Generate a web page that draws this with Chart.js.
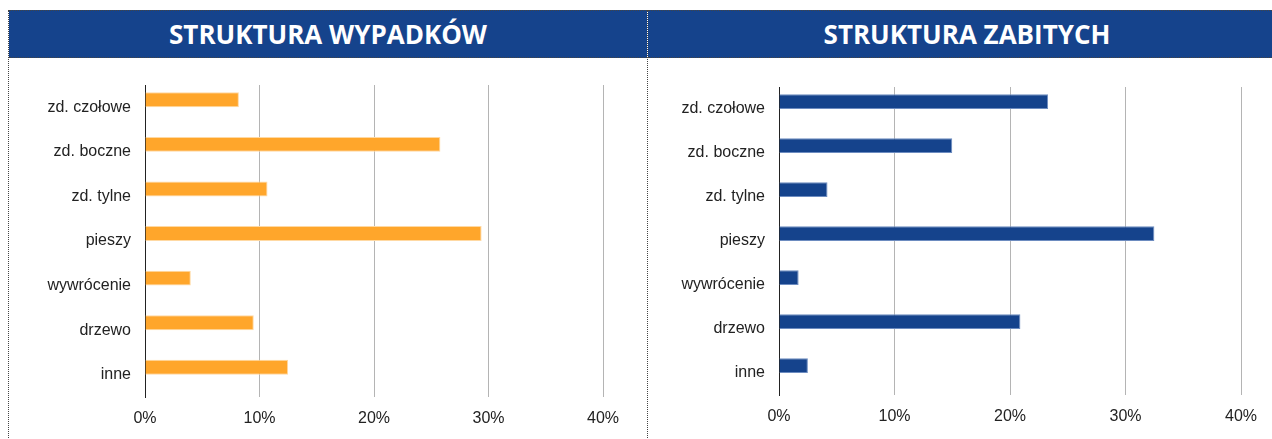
<!DOCTYPE html>
<html lang="pl">
<head>
<meta charset="utf-8">
<title>Struktura wypadków i zabitych</title>
<script src="https://cdn.jsdelivr.net/npm/chart.js@4.4.1/dist/chart.umd.min.js"></script>
<style>
    html, body {
        margin: 0;
        padding: 0;
        background: #ffffff;
        width: 1272px;
        height: 439px;
        overflow: hidden;
        position: relative;
    }
    .panel {
        position: absolute;
        top: 10px;
        width: 639px;
        height: 440px;
        border-left: 1px dotted #444;
        box-sizing: border-box;
    }
    .panel-header {
        height: 48px;
        box-sizing: border-box;
        border-top: 1px dotted #444;
        border-bottom: 1px dotted #444;
        background: #15438c;
        color: #ffffff;
        font-family: "Open Sans", sans-serif;
        font-weight: 700;
        font-size: 26px;
        line-height: 46px;
        text-align: center;
    }
    .chart-box {
        position: absolute;
        top: 48px;
        left: 0;
        width: 638px;
        height: 381px;
    }
</style>
</head>
<body>

<div class="panel" style="left: 8px;">
    <div class="panel-header">STRUKTURA WYPADKÓW</div>
    <div class="chart-box"><canvas id="wypadkiChart"></canvas></div>
</div>

<div class="panel" style="left: 647px;">
    <div class="panel-header">STRUKTURA ZABITYCH</div>
    <div class="chart-box"><canvas id="zabiciChart"></canvas></div>
</div>

<script>
    // Rodzaje zdarzeń (oś kategorii)
    const categories = [
        'zd. czołowe',
        'zd. boczne',
        'zd. tylne',
        'pieszy',
        'wywrócenie',
        'drzewo',
        'inne'
    ];

    // Udział procentowy w wypadkach
    const wypadki = [8.2, 25.8, 10.7, 29.4, 4.0, 9.5, 12.5];

    // Udział procentowy w zabitych
    const zabici = [23.3, 15.0, 4.2, 32.5, 1.7, 20.9, 2.5];

    // Podziałka osi wartości
    const xTicks = [0, 10, 20, 30, 40];

    const labelFont = { family: '"Liberation Sans", Arial, sans-serif', size: 16 };

    function makeChart(canvasId, values, color, edgeColor, layout) {
        const ctx = document.getElementById(canvasId).getContext('2d');
        return new Chart(ctx, {
            type: 'bar',
            data: {
                labels: categories,
                datasets: [
                    {
                        data: values,
                        backgroundColor: color,
                        borderColor: edgeColor,
                        borderWidth: 1,
                        borderSkipped: 'start',
                        categoryPercentage: 0.67,
                        barPercentage: 1
                    },
                    {
                        // pusta druga seria - słupki zajmują górną połowę kategorii
                        data: [],
                        categoryPercentage: 0.67,
                        barPercentage: 1
                    }
                ]
            },
            options: {
                indexAxis: 'y',
                responsive: true,
                maintainAspectRatio: false,
                animation: false,
                layout: {
                    padding: { top: layout.top, right: layout.right, left: 0, bottom: 0 }
                },
                plugins: {
                    legend: { display: false },
                    tooltip: { enabled: false }
                },
                scales: {
                    x: {
                        min: xTicks[0],
                        max: xTicks[xTicks.length - 1],
                        afterBuildTicks: (scale) => {
                            scale.ticks = xTicks.map(v => ({ value: v }));
                        },
                        afterFit: (scale) => {
                            scale.height = layout.axisHeight;
                        },
                        grid: {
                            color: '#b4b4b4',
                            lineWidth: 1,
                            drawTicks: false
                        },
                        border: { display: false },
                        ticks: {
                            padding: 12,
                            color: '#222222',
                            font: labelFont,
                            callback: (v) => v + '%'
                        }
                    },
                    y: {
                        afterFit: (scale) => {
                            scale.width = layout.labelWidth;
                        },
                        grid: { display: false, drawTicks: false },
                        border: { display: true, color: '#222222', width: 1 },
                        ticks: {
                            padding: 14,
                            color: '#222222',
                            font: labelFont
                        }
                    }
                }
            }
        });
    }

    makeChart('wypadkiChart', wypadki, '#ffa62b', '#ffd9a3', {
        top: 27, right: 44, axisHeight: 42, labelWidth: 136
    });

    makeChart('zabiciChart', zabici, '#15438c', '#6d8cc0', {
        top: 29, right: 45, axisHeight: 44, labelWidth: 131
    });
</script>
</body>
</html>
